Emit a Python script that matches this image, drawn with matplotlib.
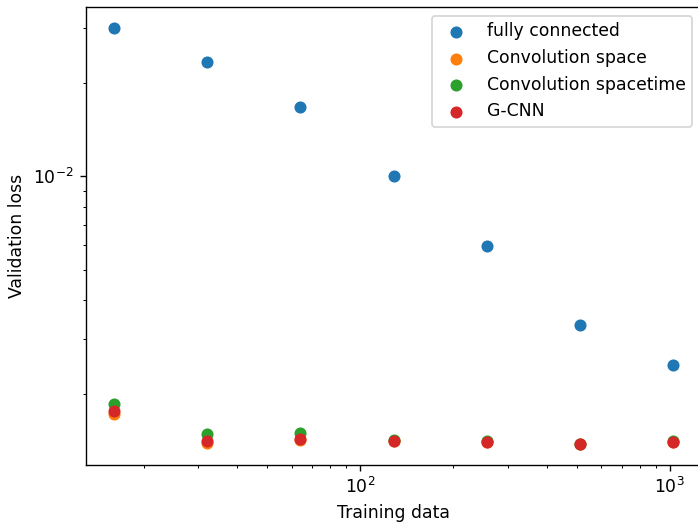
import matplotlib
matplotlib.use("Agg")
import matplotlib.pyplot as plt

# training set sizes
n_train = [16, 32, 64, 128, 256, 512, 1024]

# validation losses
fully_connected = [0.0300, 0.0233, 0.0167, 0.0100, 0.00597, 0.00332, 0.00247]
conv_space = [0.00172, 0.00139, 0.00142, 0.00141, 0.00140, 0.00138, 0.00140]
conv_spacetime = [0.00186, 0.00149, 0.00150, 0.00142, 0.00141, 0.00138, 0.00141]
gcnn = [0.00176, 0.00141, 0.00143, 0.00141, 0.00140, 0.00138, 0.00140]

dpi = 124
fig = plt.figure(figsize=(698 / dpi, 522 / dpi), dpi=dpi)
ax = fig.add_axes([86 / 698, 1 - 465 / 522, 615 / 698, 458 / 522])

ax.scatter(n_train, fully_connected, label="fully connected")
ax.scatter(n_train, conv_space, label="Convolution space")
ax.scatter(n_train, conv_spacetime, label="Convolution spacetime")
ax.scatter(n_train, gcnn, label="G-CNN")

ax.set_xscale("log")
ax.set_yscale("log")
ax.set_xlabel("Training data")
ax.set_ylabel("Validation loss")
ax.legend(loc="upper right")

fig.savefig("out.png", dpi=dpi)
